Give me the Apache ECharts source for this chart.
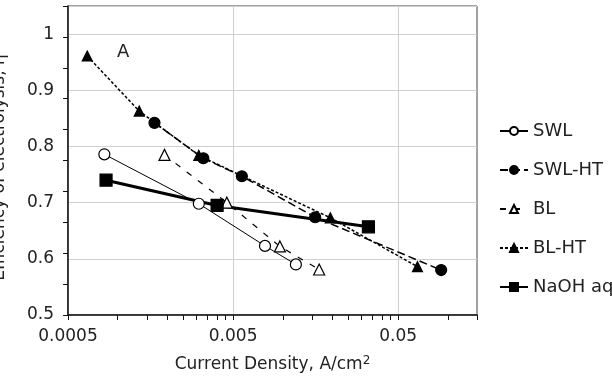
<!DOCTYPE html>
<html>
<head>
<meta charset="utf-8">
<script src="https://cdn.jsdelivr.net/npm/echarts@6/dist/echarts.min.js"></script>
<style>
  html, body { margin: 0; padding: 0; background: #fff; }
  #main { width: 612px; height: 378px; }
</style>
</head>
<body>
<div id="main"></div>
<script>
  // values: [current density A/cm2, efficiency]
  const swl = [[0.00083, 0.786], [0.0031, 0.698], [0.0078, 0.623], [0.012, 0.590]]
  const swlHt = [[0.00167, 0.842], [0.0033, 0.779], [0.00565, 0.747], [0.0157, 0.674], [0.091, 0.580]]
  const bl = [[0.00192, 0.785], [0.00458, 0.700], [0.0096, 0.622], [0.0166, 0.581]]
  const blHt = [[0.000654, 0.961], [0.00135, 0.863], [0.0031, 0.784], [0.0194, 0.673], [0.0654, 0.586]]
  const naoh = [[0.00085, 0.740], [0.0040, 0.695], [0.033, 0.657]]

  // axis labels and tick positions
  const xLabels = [0.0005, 0.005, 0.05]
  const xTicks = [0.0005, 0.001, 0.0015, 0.002, 0.0025, 0.003, 0.0035, 0.004, 0.0045,
    0.005, 0.01, 0.015, 0.02, 0.025, 0.03, 0.035, 0.04, 0.045, 0.05, 0.1, 0.15]

  const font = 'DejaVu Sans'
  const chart = echarts.init(document.getElementById('main'))

  const lineSeries = (name, data, lineStyle, symbol, size, filled) => ({
    name: name,
    type: 'line',
    data: data,
    symbol: symbol,
    symbolSize: size,
    showAllSymbol: true,
    lineStyle: Object.assign({ color: '#000' }, lineStyle),
    itemStyle: { color: filled ? '#000' : '#fff', borderColor: '#000', borderWidth: 1.2 },
    emphasis: { disabled: true },
    z: 3
  })

  chart.setOption({
    animation: false,
    textStyle: { fontFamily: font },
    title: {
      text: 'A',
      left: 112,
      top: 38,
      textStyle: { fontFamily: font, fontSize: 18, fontWeight: 'normal', color: '#222' }
    },
    legend: {
      orient: 'vertical',
      left: 494,
      top: 117,
      itemWidth: 28,
      itemHeight: 10,
      itemGap: 21,
      textStyle: { fontFamily: font, fontSize: 18, color: '#222' },
      data: ['SWL', 'SWL-HT', 'BL', 'BL-HT', 'NaOH aq']
    },
    grid: {
      left: 68, right: 135, top: 6, bottom: 63,
      outerBoundsMode: 'none',
      containLabel: false,
      show: true, borderColor: '#444', borderWidth: 1
    },
    xAxis: [{
      type: 'log',
      min: 0.0005,
      max: 0.15,
      name: 'Current Density, A/cm{s|2}',
      nameLocation: 'middle',
      nameGap: 40,
      nameTextStyle: {
        fontFamily: font, fontSize: 17, color: '#222',
        rich: { s: { fontFamily: font, fontSize: 12, color: '#222', padding: [0, 0, 7, 0] } }
      },
      axisLine: { lineStyle: { color: '#111', width: 1.5 } },
      axisTick: { show: false, customValues: xLabels },
      axisLabel: {
        customValues: xLabels,
        margin: 13,
        fontSize: 17,
        color: '#222',
        formatter: v => String(+v.toPrecision(4))
      },
      splitLine: { show: true, lineStyle: { color: '#d0d0d0', width: 1 } }
    }, {
      type: 'log',
      min: 0.0005,
      max: 0.15,
      position: 'bottom',
      axisLine: { show: false },
      axisTick: { show: true, length: 5, customValues: xTicks, lineStyle: { color: '#111' } },
      axisLabel: { show: false },
      splitLine: { show: false }
    }],
    yAxis: [{
      type: 'value',
      min: 0.5,
      max: 1.05,
      interval: 0.1,
      name: 'Efficiency of electrolysis, η',
      nameLocation: 'middle',
      nameGap: 60,
      nameTextStyle: { fontFamily: font, fontSize: 17, color: '#222', padding: [0, 14, 0, 0] },
      axisLine: { show: true, lineStyle: { color: '#111', width: 1.5 } },
      axisTick: { show: false },
      axisLabel: {
        showMaxLabel: false,
        margin: 14,
        fontSize: 17,
        color: '#222',
        formatter: v => String(+v.toFixed(2))
      },
      splitLine: { show: true, lineStyle: { color: '#d0d0d0', width: 1 } }
    }, {
      type: 'value',
      min: 0.5,
      max: 1.0,
      interval: 0.05,
      position: 'left',
      axisLine: { show: false },
      axisTick: { show: true, length: 5, lineStyle: { color: '#111' } },
      axisLabel: { show: false },
      splitLine: { show: false }
    }],
    series: [
      lineSeries('SWL', swl, { width: 1 }, 'circle', 11, false),
      lineSeries('SWL-HT', swlHt, { width: 1.5, type: [8, 4] }, 'circle', 11, true),
      lineSeries('BL', bl, { width: 1.2, type: [6, 8] }, 'triangle', 11, false),
      lineSeries('BL-HT', blHt, { width: 1.5, type: [3, 2] }, 'triangle', 10, true),
      lineSeries('NaOH aq', naoh, { width: 3 }, 'rect', 12, true)
    ]
  })
</script>
</body>
</html>
